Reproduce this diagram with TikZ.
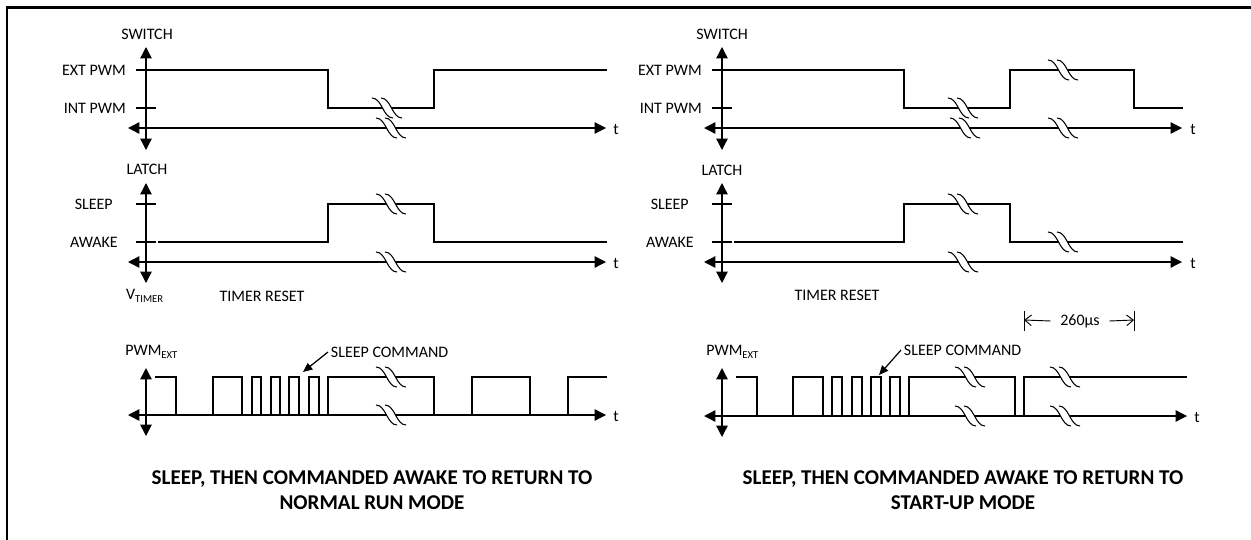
\documentclass[tikz,border=0pt]{standalone}
\usepackage{fontspec}
\setmainfont{Carlito}
\usetikzlibrary{arrows.meta}

\tikzset{
  sig/.style={line width=1pt},
  axis/.style={line width=1pt, {Triangle[length=8.5pt,width=8.5pt]}-{Triangle[length=8.5pt,width=8.5pt]}},
  lbl/.style={font=\fontsize{12}{14}\selectfont, inner sep=0pt},
  ttl/.style={font=\fontsize{15.8}{18.75}\selectfont\bfseries, align=center, inner sep=0pt},
  cmdarr/.style={line width=0.9pt, -{Triangle[length=7pt,width=6pt]}},
  dimarr/.style={line width=0.7pt, -{Straight Barb[length=5pt,width=8pt]}},
}

% break mark on a time line
\newcommand{\wavebreak}[2]{%
  \fill[white] (#1-15,#2-10) .. controls (#1-5,#2-10) and (#1-4,#2+10) .. (#1+6,#2+10)
    -- (#1+15,#2+10) .. controls (#1+5,#2+10) and (#1+4,#2-10) .. (#1-6,#2-10) -- cycle;
  \draw[line width=0.8pt] (#1-15,#2-10) .. controls (#1-5,#2-10) and (#1-4,#2+10) .. (#1+6,#2+10);
  \draw[line width=0.8pt] (#1-6,#2-10) .. controls (#1+4,#2-10) and (#1+5,#2+10) .. (#1+15,#2+10);
}

\begin{document}
\begin{tikzpicture}[x=0.75pt, y=-0.75pt]
  \useasboundingbox (0,0) rectangle (1251,539);
  \clip (0,0) rectangle (1251,539);
  \fill[white] (0,0) rectangle (1251,539);
  \draw[line width=1.6pt] (7,7.5) rectangle (1300,600);

  % left: switch
  \node[lbl] (swL) at (147,34) {SWITCH};
  \node[lbl, anchor=east] (extL) at (126,70) {EXT PWM};
  \node[lbl, anchor=east] (intL) at (126,108) {INT PWM};
  \draw[sig] (136,70) -- (156,70);
  \draw[sig] (136,108) -- (156,108);
  \draw[sig] (156,70) -- (328,70) -- (328,108) -- (434,108) -- (434,70) -- (607,70);
  \draw[axis] (146,47) -- (146,150);
  \draw[axis] (128,128) -- (606,128);
  \node[lbl] (t1L) at (616,129) {t};
  \wavebreak{387}{108}
  \wavebreak{391}{128}

  % left: latch
  \node[lbl] (laL) at (147,169) {LATCH};
  \node[lbl, anchor=east] (slL) at (113,204) {SLEEP};
  \node[lbl, anchor=east] (awL) at (118,242) {AWAKE};
  \draw[sig] (136,204) -- (156,204);
  \draw[sig] (136,242) -- (156,242);
  \draw[sig] (158,242) -- (328,242) -- (328,204) -- (434,204) -- (434,242) -- (607,242);
  \draw[axis] (146,183) -- (146,283);
  \draw[axis] (128,262) -- (606,262);
  \node[lbl] (t2L) at (616,263) {t};
  \wavebreak{391}{204}
  \wavebreak{391}{262}
  \node[lbl] (vtL) at (145,296) {V\textsubscript{TIMER}};
  \node[lbl] (trL) at (262,296) {TIMER RESET};

  % left: pwm
  \node[lbl, anchor=west] (pwL) at (125,352) {PWM\textsubscript{EXT}};
  \draw[sig] (155,377) -- (176,377) -- (176,415);
  \foreach \a/\b in {213/242, 252/261, 271/280, 289/299, 309/319, 328/434, 472/530}
    \draw[sig] (\a,415) -- (\a,377) -- (\b,377) -- (\b,415);
  \draw[sig] (568,415) -- (568,377) -- (607,377);
  \draw[axis] (146,368) -- (146,436);
  \draw[axis] (128,415) -- (606,415);
  \node[lbl] (t3L) at (616,416) {t};
  \wavebreak{391}{377}
  \wavebreak{391}{415}
  \node[lbl, anchor=west, inner sep=2pt] (cmdL) at (328,352) {SLEEP COMMAND};
  \coordinate (cmdtipL) at (303,372);
  \draw[cmdarr] (cmdL.west) -- (cmdtipL);

  \node[ttl] (ttlL) at (372,490) {SLEEP, THEN COMMANDED AWAKE TO RETURN TO\\NORMAL RUN MODE};

  % right: switch
  \node[lbl] (swR) at (722,34) {SWITCH};
  \node[lbl, anchor=east] (extR) at (702,70) {EXT PWM};
  \node[lbl, anchor=east] (intR) at (702,108) {INT PWM};
  \draw[sig] (712,70) -- (732,70);
  \draw[sig] (712,108) -- (732,108);
  \draw[sig] (732,70) -- (904,70) -- (904,108) -- (1010,108) -- (1010,70) -- (1134,70) -- (1134,108) -- (1183,108);
  \draw[axis] (722,47) -- (722,150);
  \draw[axis] (704,128) -- (1182,128);
  \node[lbl] (t1R) at (1193,129) {t};
  \wavebreak{963}{108}
  \wavebreak{965}{128}
  \wavebreak{1063}{70}
  \wavebreak{1063}{128}

  % right: latch
  \node[lbl] (laR) at (722,170) {LATCH};
  \node[lbl, anchor=east] (slR) at (689,204) {SLEEP};
  \node[lbl, anchor=east] (awR) at (694,242) {AWAKE};
  \draw[sig] (712,204) -- (732,204);
  \draw[sig] (712,242) -- (732,242);
  \draw[sig] (734,242) -- (904,242) -- (904,204) -- (1010,204) -- (1010,242) -- (1183,242);
  \draw[axis] (722,183) -- (722,283);
  \draw[axis] (704,262) -- (1182,262);
  \node[lbl] (t2R) at (1193,263) {t};
  \wavebreak{963}{204}
  \wavebreak{963}{262}
  \wavebreak{1063}{242}
  \node[lbl] (trR) at (837,295) {TIMER RESET};

  % right: 260us span
  \node[lbl] (dur) at (1080,321) {260µs};
  \coordinate (barL) at (1024,320);
  \coordinate (barR) at (1134,320);
  \draw[line width=0.7pt] (1024,311) -- (1024,331);
  \draw[line width=0.7pt] (1134,311) -- (1134,331);
  \draw[dimarr] ([xshift=-7pt]dur.west) -- (barL);
  \draw[dimarr] ([xshift=7pt]dur.east) -- (barR);

  % right: pwm
  \node[lbl, anchor=west] (pwR) at (706,352) {PWM\textsubscript{EXT}};
  \draw[sig] (736,377) -- (757,377) -- (757,416);
  \foreach \a/\b in {793/823, 832/842, 852/862, 871/881, 890/900, 909/1015}
    \draw[sig] (\a,416) -- (\a,377) -- (\b,377) -- (\b,416);
  \draw[sig] (1024,416) -- (1024,377) -- (1187,377);
  \draw[axis] (722,368) -- (722,437);
  \draw[axis] (704,416) -- (1187,416);
  \node[lbl] (t3R) at (1197,417) {t};
  \wavebreak{970}{377}
  \wavebreak{970}{416}
  \wavebreak{1065}{377}
  \wavebreak{1065}{416}
  \node[lbl, anchor=west, inner sep=2pt] (cmdR) at (901,350) {SLEEP COMMAND};
  \coordinate (cmdtipR) at (879,375);
  \draw[cmdarr] (cmdR.west) -- (cmdtipR);

  \node[ttl] (ttlR) at (963,490) {SLEEP, THEN COMMANDED AWAKE TO RETURN TO\\START-UP MODE};
\end{tikzpicture}
\end{document}
